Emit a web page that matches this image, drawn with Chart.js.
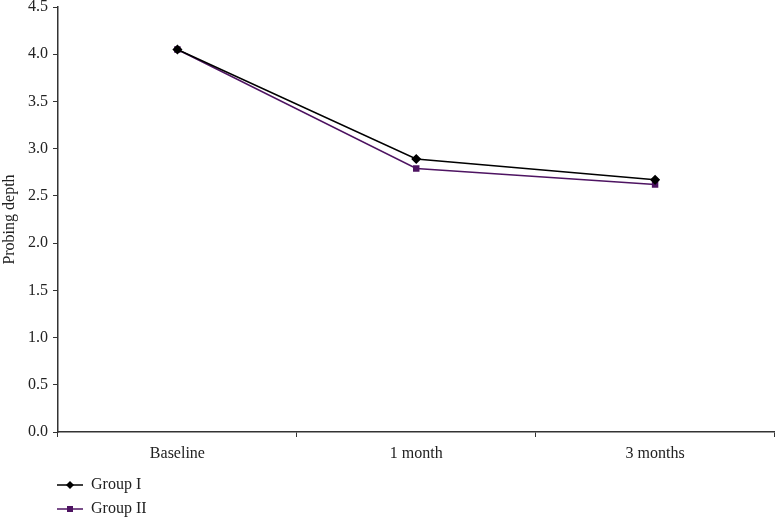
<!DOCTYPE html>
<html>
<head>
<meta charset="utf-8">
<script src="https://cdn.jsdelivr.net/npm/chart.js@4"></script>
<style>
  html, body { margin: 0; padding: 0; background: #fff; }
  #wrap { width: 780px; height: 518px; position: relative; }
</style>
</head>
<body>
<div id="wrap"><canvas id="myChart"></canvas></div>
<script>
// data
var categories = ['Baseline', '1 month', '3 months'];
var groupOne = [4.05, 2.89, 2.67];
var groupTwo = [4.05, 2.79, 2.62];
var yTicks = [0, 0.5, 1, 1.5, 2, 2.5, 3, 3.5, 4, 4.5];

var fontFamily = '"Liberation Serif", "DejaVu Serif", serif';
var purple = '#4e1462';

// legend drawn below the plot, stacked vertically like the original
var stackedLegend = {
    id: 'stackedLegend',
    afterDraw: function(chart) {
        var ctx = chart.ctx;
        var area = chart.chartArea;
        ctx.save();
        chart.data.datasets.forEach(function(ds, i) {
            var y = area.bottom + 53 + i * 24;
            var x0 = area.left - 1;
            ctx.strokeStyle = ds.borderColor;
            ctx.lineWidth = 1.5;
            ctx.beginPath();
            ctx.moveTo(x0, y);
            ctx.lineTo(x0 + 26, y);
            ctx.stroke();
            ctx.fillStyle = ds.pointBackgroundColor;
            var cx = x0 + 13;
            if (ds.pointStyle === 'rectRot') {
                ctx.beginPath();
                ctx.moveTo(cx, y - 4);
                ctx.lineTo(cx + 4, y);
                ctx.lineTo(cx, y + 4);
                ctx.lineTo(cx - 4, y);
                ctx.closePath();
                ctx.fill();
            } else {
                ctx.fillRect(cx - 3, y - 3, 6, 6);
            }
            ctx.fillStyle = '#222';
            ctx.font = '16px ' + fontFamily;
            ctx.textBaseline = 'middle';
            ctx.textAlign = 'left';
            ctx.fillText(ds.label, x0 + 34, y);
        });
        ctx.restore();
    }
};

var ctx = document.getElementById('myChart').getContext('2d');
var myChart = new Chart(ctx, {
    type: 'line',
    data: {
        labels: categories,
        datasets: [{
            label: 'Group I',
            data: groupOne,
            borderColor: '#000',
            backgroundColor: '#000',
            pointBackgroundColor: '#000',
            pointBorderColor: '#000',
            pointStyle: 'rectRot',
            pointRadius: 4,
            borderWidth: 1.5,
            tension: 0
        }, {
            label: 'Group II',
            data: groupTwo,
            borderColor: purple,
            backgroundColor: purple,
            pointBackgroundColor: purple,
            pointBorderColor: purple,
            pointStyle: 'rect',
            pointRadius: 3.5,
            borderWidth: 1.5,
            tension: 0
        }]
    },
    options: {
        responsive: true,
        maintainAspectRatio: false,
        animation: false,
        layout: { padding: { top: 7, right: 2, bottom: 54, left: 0 } },
        plugins: {
            legend: { display: false },
            tooltip: { enabled: false }
        },
        scales: {
            x: {
                offset: true,
                grid: {
                    offset: true,
                    drawOnChartArea: false,
                    drawTicks: true,
                    tickLength: 5,
                    color: '#333'
                },
                border: { color: '#333', width: 1.5 },
                ticks: {
                    color: '#222',
                    font: { family: fontFamily, size: 16 },
                    padding: 7
                },
                afterFit: function(axis) { axis.height = 32; }
            },
            y: {
                min: 0,
                max: 4.5,
                afterBuildTicks: function(axis) {
                    axis.ticks = yTicks.map(function(v) { return { value: v }; });
                },
                grid: {
                    drawOnChartArea: false,
                    drawTicks: true,
                    tickLength: 5,
                    color: '#333'
                },
                border: { color: '#333', width: 1.5 },
                ticks: {
                    color: '#222',
                    font: { family: fontFamily, size: 16 },
                    padding: 5,
                    callback: function(v) { return Number(v).toFixed(1); }
                },
                title: {
                    display: true,
                    text: 'Probing depth',
                    color: '#222',
                    font: { family: fontFamily, size: 16 },
                    padding: { top: 0, bottom: 3 }
                },
                afterFit: function(axis) {
                    axis.width = 58;
                    axis.paddingTop = 0;
                }
            }
        }
    },
    plugins: [stackedLegend]
});
</script>
</body>
</html>
